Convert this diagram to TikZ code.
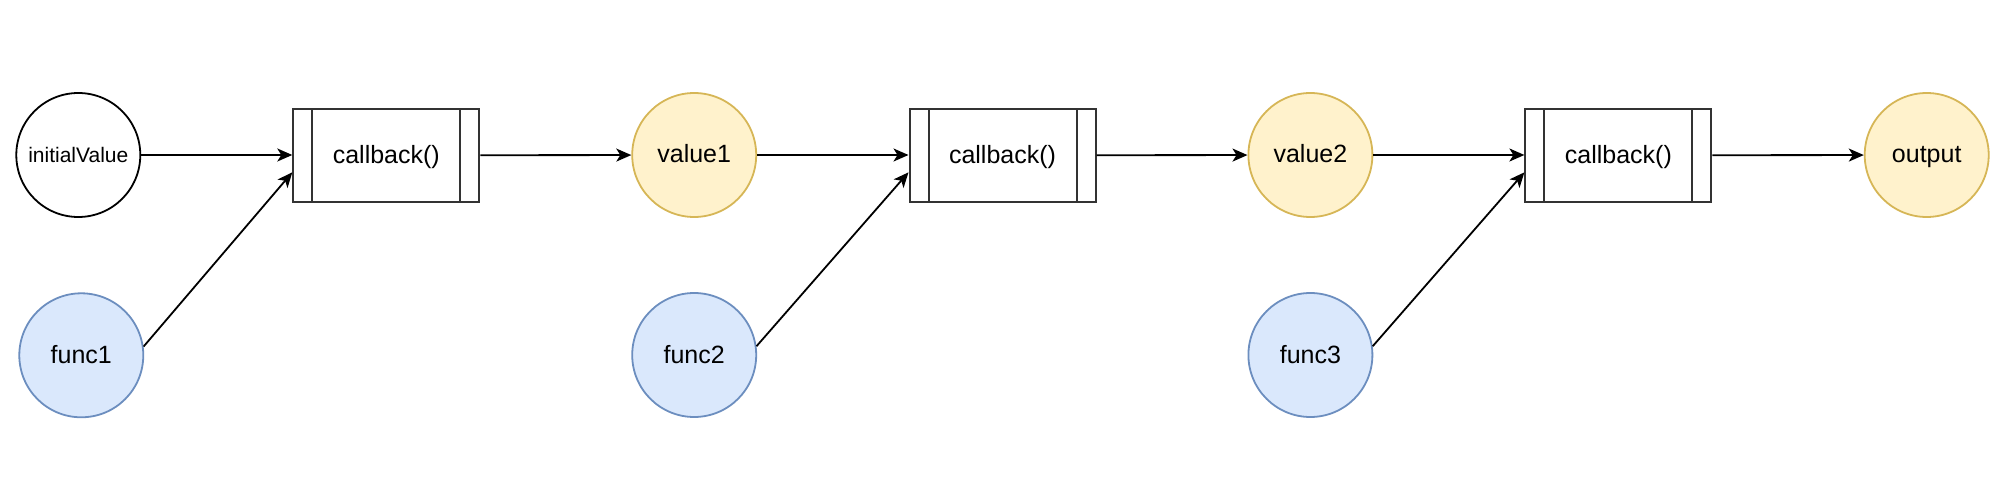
\documentclass[tikz,border=0pt]{standalone}
\usepackage{fontspec}
\setmainfont{Liberation Sans}
\usetikzlibrary{arrows.meta,calc}
\definecolor{yfill}{HTML}{FFF2CC}
\definecolor{ydraw}{HTML}{D6B656}
\definecolor{bfill}{HTML}{DAE8FC}
\definecolor{bdraw}{HTML}{6C8EBF}
\definecolor{boxdraw}{HTML}{333333}
\tikzset{
  txt/.style={text height=20pt, text depth=4pt},
  circ/.style={circle, draw=black, line width=1.8pt, minimum size=124pt, inner sep=0pt, txt, font=\fontsize{25pt}{29pt}\selectfont},
  yel/.style={circ, fill=yfill, draw=ydraw},
  blu/.style={circ, fill=bfill, draw=bdraw},
  proc/.style={rectangle, draw=boxdraw, line width=2pt, minimum width=186pt, minimum height=92.7pt, inner sep=0pt, txt,
    font=\fontsize{25pt}{29pt}\selectfont,
    path picture={
      \draw[boxdraw, line width=2pt] ([xshift=19pt]path picture bounding box.north west) -- ([xshift=19pt]path picture bounding box.south west);
      \draw[boxdraw, line width=2pt] ([xshift=-19pt]path picture bounding box.north east) -- ([xshift=-19pt]path picture bounding box.south east);
    }},
  conn/.style={draw=black, line width=1.8pt, -{Stealth[length=15pt, width=13pt, inset=4pt]}}
}
\begin{document}
\begin{tikzpicture}[x=1pt, y=-1pt]
\useasboundingbox (0,0) rectangle (2006,486);
\node[circ, font=\fontsize{21pt}{25pt}\selectfont] (iv) at (78.3,155) {initialValue};
\node[blu] (f1) at (81.3,355.3) {func1};
\node[proc] (cb1) at (386.3,155.3) {callback()};
\node[yel] (v1) at (694.2,155) {value1};
\node[blu] (f2) at (694.2,355) {func2};
\node[proc] (cb2) at (1002.5,155.3) {callback()};
\node[yel] (v2) at (1310.4,155) {value2};
\node[blu] (f3) at (1310.4,355) {func3};
\node[proc] (cb3) at (1618.4,155.3) {callback()};
\node[yel] (out) at (1926.7,155) {output};

\draw[conn] (iv) -- (iv -| cb1.west);
\draw[conn] (cb1) -- (v1);
\draw[conn] (v1) -- (v1 -| cb2.west);
\draw[conn] (cb2) -- (v2);
\draw[conn] (v2) -- (v2 -| cb3.west);
\draw[conn] (cb3) -- (out);

\draw[conn] (f1.8) -- ($(cb1.north west)!0.68!(cb1.south west)$);
\draw[conn] (f2.8) -- ($(cb2.north west)!0.68!(cb2.south west)$);
\draw[conn] (f3.8) -- ($(cb3.north west)!0.68!(cb3.south west)$);
\end{tikzpicture}
\end{document}
